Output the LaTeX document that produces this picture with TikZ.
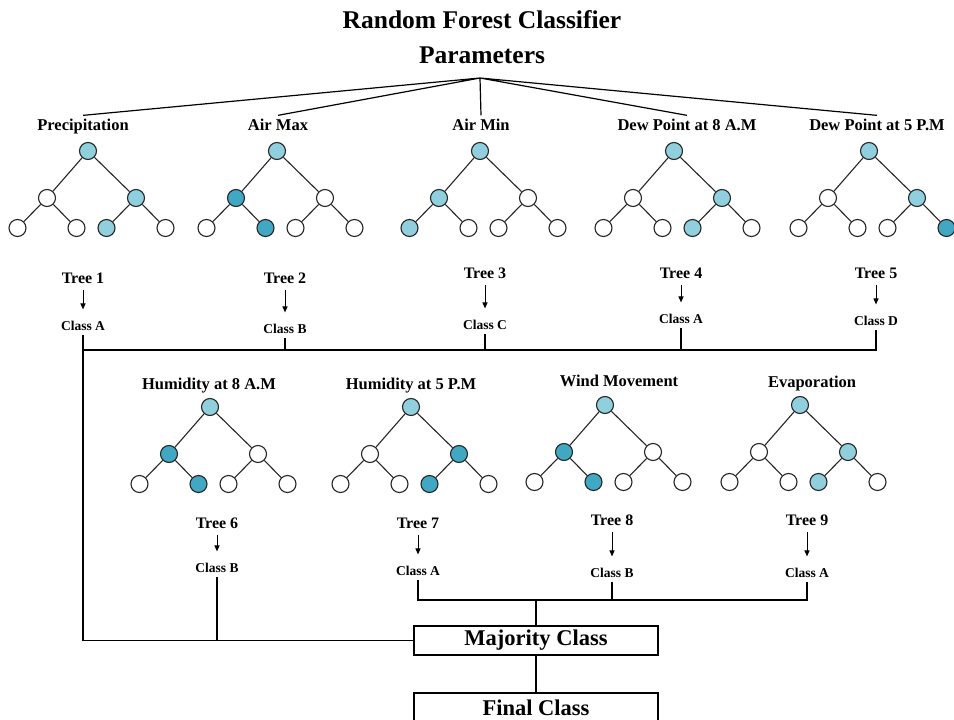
\documentclass[tikz,border=0pt]{standalone}
\usepackage{fontspec}
\setmainfont{Liberation Serif}
\usetikzlibrary{arrows.meta,positioning}
\definecolor{ln}{HTML}{90CFDD}
\definecolor{dn}{HTML}{41A8C4}
\definecolor{wn}{HTML}{FFFFFF}
\tikzset{leaf/.style={circle,draw=black!85,line width=1.1pt,minimum size=17pt,inner sep=0pt},edge/.style={line width=1.1pt,draw=black!85},feat/.style={font=\bfseries\fontsize{16.5}{18}\selectfont,inner sep=3pt,anchor=base},treelab/.style={font=\bfseries\fontsize{16}{18}\selectfont,inner sep=3pt,anchor=base},cls/.style={font=\bfseries\fontsize{13.5}{15}\selectfont,inner sep=5pt,anchor=base},vote/.style={draw,line width=1.2pt,minimum width=244pt,minimum height=29pt,inner sep=0pt,font=\bfseries\fontsize{22.5}{26}\selectfont},arrow/.style={-{Triangle[length=6pt,width=5pt]},line width=1pt,shorten <=4pt,shorten >=6pt},wire/.style={line width=1.2pt}}

\begin{document}
\begin{tikzpicture}[x=1pt,y=-1pt]
\useasboundingbox (0,0) rectangle (954,720);
\clip (0,0) rectangle (954,720);
% heading
\node[font=\bfseries\fontsize{25.5}{30}\selectfont,anchor=base] (title) at (482,28) {Random Forest Classifier};
\node[font=\bfseries\fontsize{25.5}{30}\selectfont,anchor=base] (param) at (482,63) {Parameters};
\coordinate (hub) at (480,78);
% features
\node[feat] (f1) at (83,130) {Precipitation};
\node[feat] (f2) at (278,130) {Air Max};
\node[feat] (f3) at (481,130) {Air Min};
\node[feat] (f4) at (687,130) {Dew Point at 8 A.M};
\node[feat] (f5) at (877,130) {Dew Point at 5 P.M};
\node[feat] (f6) at (209,389) {Humidity at 8 A.M};
\node[feat] (f7) at (411,389) {Humidity at 5 P.M};
\node[feat] (f8) at (619,386) {Wind Movement};
\node[feat] (f9) at (812,387) {Evaporation};
\draw[wire] (hub)--(f1.north) (hub)--(f2.north) (hub)--(f3.north) (hub)--(f4.north) (hub)--(f5.north);
% trees
\foreach \n/\x/\y/\a/\b/\c/\d/\e/\f/\g in {t1/88/151/ln/wn/ln/wn/wn/ln/wn,t2/277/151/ln/dn/wn/wn/dn/wn/wn,t3/480/151/ln/ln/wn/ln/wn/wn/wn,t4/674/151/ln/wn/ln/wn/wn/ln/wn,t5/869/151/ln/wn/ln/wn/wn/wn/dn,t6/210/407/ln/dn/wn/wn/dn/wn/wn,t7/411/407/ln/wn/dn/wn/wn/dn/wn,t8/605/405/ln/dn/wn/wn/dn/wn/wn,t9/800/405/ln/wn/ln/wn/wn/ln/wn}{
\begin{scope}[shift={(\x,\y)}]
\node[leaf,fill=\a] (\n-0) at (0,0) {};
\node[leaf,fill=\b] (\n-1) at (-41,47) {};
\node[leaf,fill=\c] (\n-2) at (48,47) {};
\node[leaf,fill=\d] (\n-3) at (-70.5,77) {};
\node[leaf,fill=\e] (\n-4) at (-11.5,77) {};
\node[leaf,fill=\f] (\n-5) at (18.5,77) {};
\node[leaf,fill=\g] (\n-6) at (77.5,77) {};
\draw[edge] (\n-0)--(\n-1) (\n-0)--(\n-2) (\n-1)--(\n-3) (\n-1)--(\n-4) (\n-2)--(\n-5) (\n-2)--(\n-6);
\end{scope}}
% tree outputs
\node[treelab] (tree1) at (83,283) {Tree 1};
\node[treelab] (tree2) at (285,283) {Tree 2};
\node[treelab] (tree3) at (485,278) {Tree 3};
\node[treelab] (tree4) at (681,278) {Tree 4};
\node[treelab] (tree5) at (876,278) {Tree 5};
\node[treelab] (tree6) at (217,528) {Tree 6};
\node[treelab] (tree7) at (418,528) {Tree 7};
\node[treelab] (tree8) at (612,525) {Tree 8};
\node[treelab] (tree9) at (807,525) {Tree 9};
\node[cls] (cls1) at (83,330) {Class A};
\node[cls] (cls2) at (285,333) {Class B};
\node[cls] (cls3) at (485,329) {Class C};
\node[cls] (cls4) at (681,323) {Class A};
\node[cls] (cls5) at (876,325) {Class D};
\node[cls] (cls6) at (217,572) {Class B};
\node[cls] (cls7) at (418,575) {Class A};
\node[cls] (cls8) at (612,577) {Class B};
\node[cls] (cls9) at (807,577) {Class A};
\foreach \i in {1,...,9}{\draw[arrow] (tree\i)--(cls\i);}
% voting
\node[vote] (maj) at (536,640.5) {Majority Class};
\node[vote] (fin) at (536,707.5) {Final Class};
\coordinate (busA) at (0,350);
\coordinate (busB) at (0,600);
\draw[wire] (cls1.south)|-(maj.west);
\draw[wire] (cls1.south|-busA)--(cls5.south|-busA)--(cls5.south);
\draw[wire] (cls2.south)--(cls2.south|-busA) (cls3.south)--(cls3.south|-busA) (cls4.south)--(cls4.south|-busA);
\draw[wire] (cls6.south)--(cls6.south|-maj.west);
\draw[wire] (cls7.south)--(cls7.south|-busB)--(cls9.south|-busB)--(cls9.south);
\draw[wire] (cls8.south)--(cls8.south|-busB);
\draw[wire] (maj.north|-busB)--(maj.north);
\draw[wire] (maj)--(fin);
\end{tikzpicture}
\end{document}
